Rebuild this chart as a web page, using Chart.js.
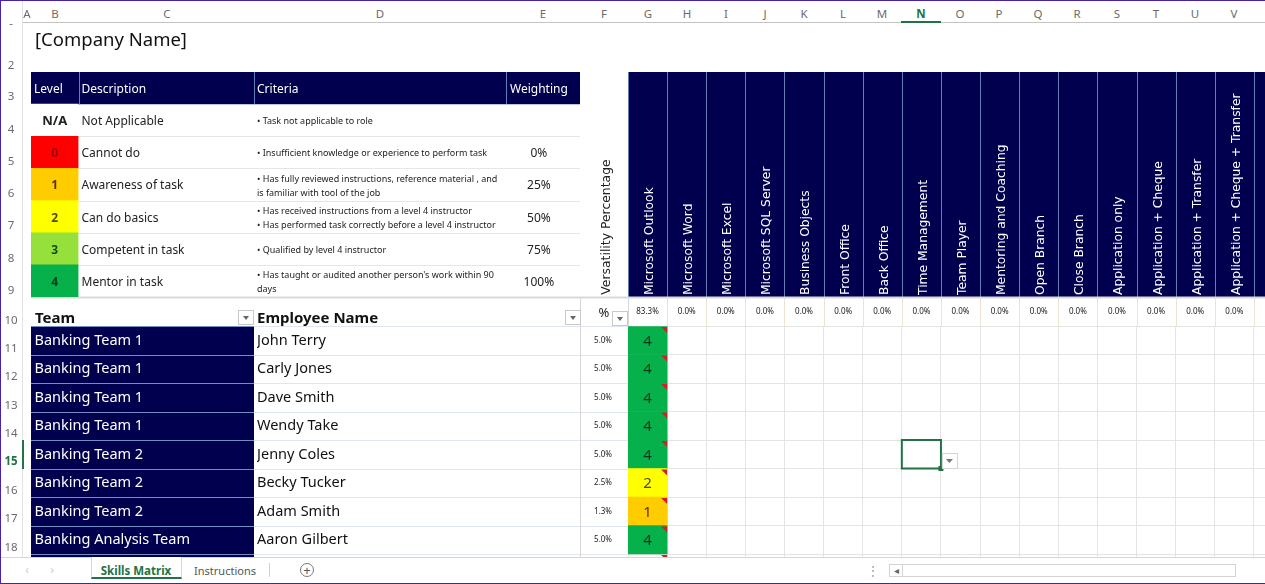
<!DOCTYPE html>
<html>
<head>
<meta charset="utf-8">
<title>Skills Matrix</title>
<script src="https://cdn.jsdelivr.net/npm/chart.js@4"></script>
<style>
  html, body { margin: 0; padding: 0; background: #fff; }
  body { width: 1265px; height: 584px; overflow: hidden; position: relative; font-family: "Noto Sans", sans-serif; }
  canvas { position: absolute; }
  .t { position: absolute; white-space: nowrap; transform: translate(-50%, -50%); font-size: 11.5px; color: #6b6b6b; }
  .box { position: absolute; box-sizing: border-box; }
  .filter { position: absolute; box-sizing: border-box; width: 16px; height: 15px; background: #fff; border: 1px solid #c9c9c9; }
  .filter::after { content: ""; position: absolute; left: 4px; top: 5px; border: 3.5px solid transparent; border-top: 4px solid #666; }
</style>
</head>
<body>
<canvas id="matrixChart"></canvas>
<canvas id="levelChart"></canvas>
<script>
// skills matrix data
const skills = ["Microsoft Outlook", "Microsoft Word", "Microsoft Excel", "Microsoft SQL Server", "Business Objects",
  "Front Office", "Back Office", "Time Management", "Team Player", "Mentoring and Coaching", "Open Branch", "Close Branch",
  "Application only", "Application + Cheque", "Application + Transfer", "Application + Cheque + Transfer", ""];
const skillPercent = ["83.3%", "0.0%", "0.0%", "0.0%", "0.0%", "0.0%", "0.0%", "0.0%", "0.0%", "0.0%", "0.0%", "0.0%",
  "0.0%", "0.0%", "0.0%", "0.0%", ""];
const teams = ["Banking Team 1", "Banking Team 1", "Banking Team 1", "Banking Team 1", "Banking Team 2", "Banking Team 2",
  "Banking Team 2", "Banking Analysis Team", ""];
const employees = ["John Terry", "Carly Jones", "Dave Smith", "Wendy Take", "Jenny Coles", "Becky Tucker", "Adam Smith", "Aaron Gilbert", ""];
const employeePercent = ["5.0%", "5.0%", "5.0%", "5.0%", "5.0%", "2.5%", "1.3%", "5.0%", ""];
const outlookLevels = [4, 4, 4, 4, 4, 2, 1, 4, null];

// level key table
const keyLevels = ["Level", "N/A", "0", "1", "2", "3", "4"];
const keyDescriptions = ["Description", "Not Applicable", "Cannot do", "Awareness of task", "Can do basics", "Competent in task", "Mentor in task"];
const keyCriteria = ["Criteria", "• Task not applicable to role", "• Insufficient knowledge or experience to perform task",
  ["• Has fully reviewed instructions, reference material , and", "is familiar with tool of the job"],
  ["• Has received instructions from a level 4 instructor", "• Has performed task correctly before a level 4 instructor"],
  "• Qualified by level 4 instructor",
  ["• Has taught or audited another person's work within 90", "days"]];
const keyWeights = ["Weighting", "", "0%", "25%", "50%", "75%", "100%"];
const keySwatch = [1, 1, 1, 1, 1, 1, 1];

const NAVY = "#00004f";
const levelColors = { 0: "#ff0000", 1: "#ffcc00", 2: "#ffff00", 3: "#96e03c", 4: "#06b04a" };
const levelText = { 0: "#a00000", 1: "#5c3000", 2: "#4a4a00", 3: "#174a0c", 4: "#063a1a" };
const FONT = '"Noto Sans", sans-serif';

// axis takes a fixed size so the sheet columns line up
function fixWidth(w) {
  return function (s) { s.width = w; s.paddingTop = 0; s.paddingBottom = 0; };
}
function fixHeight(h) {
  return function (s) { s.height = h; s.paddingLeft = 0; s.paddingRight = 0; };
}

function textAxis(labels, position, weight, size, font, color, crossAlign, padding, shift) {
  const ax = {
    axis: "y", type: "category", labels: labels, position: position, weight: weight, offset: true,
    grid: { display: false, drawTicks: false }, border: { display: false },
    ticks: { autoSkip: false, font: font, color: color, crossAlign: crossAlign, padding: padding, labelOffset: shift, maxRotation: 0, minRotation: 0 },
    afterFit: fixWidth(size),
  };
  return ax;
}

// sheet fills and borders behind the axes and cells
const sheetPlugin = {
  id: "sheet",
  beforeDraw(chart) {
    const c = chart.ctx, x = chart.scales.x, y = chart.scales.y, area = chart.chartArea;
    const colW = x.getPixelForTick(1) - x.getPixelForTick(0);
    const hTop = 72, hBottom = 297;
    c.save();
    // skill header band
    c.fillStyle = NAVY;
    c.fillRect(area.left, hTop, area.width, hBottom - hTop);
    c.fillRect(31, area.top, 223, area.height);
    c.lineWidth = 1;
    for (let i = 0; i <= skills.length; i++) {
      const px = Math.round(x.getPixelForTick(0) - colW / 2 + i * colW) + 0.5;
      c.strokeStyle = "#5f7fb8";
      c.beginPath(); c.moveTo(px, hTop); c.lineTo(px, hBottom); c.stroke();
      c.strokeStyle = "#f2e0d0";
      c.beginPath(); c.moveTo(px, hBottom); c.lineTo(px, area.top); c.stroke();
    }
    // row borders
    for (let i = 0; i <= teams.length; i++) {
      const py = Math.round(y.getPixelForValue(i)) + 0.5;
      c.strokeStyle = "#6f90c4";
      c.beginPath(); c.moveTo(31, py); c.lineTo(254, py); c.stroke();
      c.strokeStyle = "#dfe6f0";
      c.beginPath(); c.moveTo(254, py); c.lineTo(area.left, py); c.stroke();
    }
    c.strokeStyle = "#d6d6d6";
    c.beginPath(); c.moveTo(580.5, 297); c.lineTo(580.5, 584); c.stroke();
    c.beginPath(); c.moveTo(area.left + 0.5, 297); c.lineTo(area.left + 0.5, 326); c.stroke();
    c.lineWidth = 2;
    c.strokeStyle = "#d9d9d9";
    c.beginPath(); c.moveTo(31, 297.5); c.lineTo(area.right, 297.5); c.stroke();
    c.restore();
  },
  afterDatasetsDraw(chart) {
    const c = chart.ctx, x = chart.scales.x, y = chart.scales.y;
    const half = (x.getPixelForTick(1) - x.getPixelForTick(0)) / 2;
    const cx = x.getPixelForValue(0);
    c.save();
    c.textAlign = "center";
    c.textBaseline = "middle";
    c.font = "15px " + FONT;
    outlookLevels.forEach(function (lv, i) {
      const top = y.getPixelForValue(i), mid = y.getPixelForValue(i + 0.5);
      if (lv !== null) {
        c.fillStyle = levelText[lv];
        c.fillText(String(lv), cx, mid + 1);
      }
      // comment marker
      c.fillStyle = "#d2202a";
      c.beginPath();
      c.moveTo(cx + half - 6, top + 1); c.lineTo(cx + half, top + 1); c.lineTo(cx + half, top + 7);
      c.fill();
    });
    // selected cell N15
    const sel = skills.indexOf("Time Management");
    const sx = x.getPixelForValue(sel) - half, sy = y.getPixelForValue(4), sh = y.getPixelForValue(5) - sy;
    c.strokeStyle = "#217346";
    c.lineWidth = 2;
    c.strokeRect(sx, sy, half * 2, sh);
    c.fillStyle = "#217346";
    c.fillRect(sx + half * 2 - 2.5, sy + sh - 2.5, 5, 5);
    c.fillStyle = "#fff";
    c.strokeStyle = "#d4d4d4";
    c.lineWidth = 1;
    c.fillRect(sx + half * 2 + 1, sy + 13, 15, 15);
    c.strokeRect(sx + half * 2 + 1.5, sy + 13.5, 15, 15);
    c.fillStyle = "#777";
    c.beginPath();
    c.moveTo(sx + half * 2 + 5, sy + 19); c.lineTo(sx + half * 2 + 12, sy + 19); c.lineTo(sx + half * 2 + 8.5, sy + 23);
    c.fill();
    c.restore();
  },
};

const cellBars = outlookLevels.map(function (lv, i) {
  return { x: skills[0], y: lv === null ? null : [i, i + 1] };
});

const matrixCanvas = document.getElementById("matrixChart");
matrixCanvas.style.left = "0px";
matrixCanvas.style.top = "0px";
matrixCanvas.width = 1293;
matrixCanvas.height = 584;

new Chart(matrixCanvas, {
  type: "bar",
  data: {
    datasets: [{
      data: cellBars,
      backgroundColor: outlookLevels.map(function (lv) { return lv === null ? "#fff" : levelColors[lv]; }),
      barPercentage: 1,
      categoryPercentage: 1,
      borderWidth: 0,
    }],
  },
  options: {
    responsive: false,
    animation: false,
    layout: { padding: { left: 34.5, top: 72, right: 0, bottom: 1.5 } },
    plugins: { legend: { display: false }, tooltip: { enabled: false } },
    scales: {
      x: {
        type: "category", labels: skills, position: "top", weight: 2, offset: true,
        grid: { color: "#e4e4e4", drawTicks: false, offset: true }, border: { display: false },
        ticks: { autoSkip: false, minRotation: 90, maxRotation: 90, padding: 2, labelOffset: 17, color: "#ffffff", font: { family: "DejaVu Sans", size: 12.3 } },
        afterFit: fixHeight(225),
      },
      xPercent: {
        axis: "x", type: "category", labels: skillPercent, position: "top", weight: 1, offset: true,
        grid: { display: false, drawTicks: false }, border: { display: false },
        ticks: { autoSkip: false, maxRotation: 0, minRotation: 0, padding: 9, color: "#222", font: { family: "Noto Sans", size: 8 } },
        afterFit: fixHeight(29),
      },
      y: {
        type: "linear", position: "left", weight: 0, reverse: true, min: 0, max: teams.length,
        grid: { color: "#e4e4e4", drawTicks: false }, border: { display: false },
        ticks: { display: false, stepSize: 1 },
        afterFit: fixWidth(0),
      },
      yTeam: textAxis(teams, "left", 3, 222.5, { family: "Noto Sans", size: 14.5 }, "#ffffff", "far", 0, 0.5),
      yEmployee: textAxis(employees, "left", 2, 323, { family: "Noto Sans", size: 14.5 }, "#111", "far", 0, 0.5),
      yPercent: textAxis(employeePercent, "left", 1, 48, { family: "Noto Sans", size: 8 }, "#222", "center", 16, 0),
    },
  },
  plugins: [sheetPlugin],
});

// key table fills and rules
const keyPlugin = {
  id: "keyTable",
  beforeDraw(chart) {
    const c = chart.ctx, y = chart.scales.y;
    const rowH = y.getPixelForTick(1) - y.getPixelForTick(0);
    const w = chart.width;
    c.save();
    c.fillStyle = NAVY;
    c.fillRect(0, 0, w, rowH);
    c.lineWidth = 1;
    for (let i = 1; i <= keyLevels.length; i++) {
      const py = Math.round(y.getPixelForTick(0) - rowH / 2 + i * rowH) + 0.5;
      c.strokeStyle = i === 1 ? "#b9c8e0" : "#e6e6e6";
      c.beginPath(); c.moveTo(0, py); c.lineTo(w, py); c.stroke();
    }
    c.strokeStyle = "#5f7fb8";
    [chart.chartArea.right, chart.scales.yCriteria.left, chart.scales.yWeight.left].forEach(function (px) {
      const p = Math.round(px) + 0.5;
      c.beginPath(); c.moveTo(p, 0); c.lineTo(p, rowH); c.stroke();
    });
    c.restore();
  },
  afterDatasetsDraw(chart) {
    const c = chart.ctx, x = chart.scales.x, y = chart.scales.y;
    c.save();
    c.textBaseline = "middle";
    keyLevels.forEach(function (label, i) {
      const py = y.getPixelForTick(i) + 1.5;
      if (i === 0) {
        c.font = "12px " + FONT;
        c.fillStyle = "#fff";
        c.textAlign = "left";
        c.fillText(label, x.left + 3, py);
      } else {
        c.font = (i === 1 ? "bold 13px " : "bold 12px ") + FONT;
        c.fillStyle = i === 1 ? "#222" : levelText[label];
        c.textAlign = "center";
        c.fillText(label, (x.left + x.right) / 2, py);
      }
    });
    c.restore();
  },
};

const headerWhite = function (ctx) { return ctx.index === 0 ? "#ffffff" : "#222222"; };
const criteriaFont = function (ctx) {
  return ctx.index === 0 ? { family: "Noto Sans", size: 12 } : { family: "Noto Sans", size: 9, lineHeight: 1.55 };
};
const levelCanvas = document.getElementById("levelChart");
levelCanvas.style.left = "31px";
levelCanvas.style.top = "72px";
levelCanvas.width = 549;
levelCanvas.height = 225;

new Chart(levelCanvas, {
  type: "bar",
  data: {
    labels: keyLevels,
    datasets: [{
      data: keySwatch,
      backgroundColor: [NAVY, "#ffffff", levelColors[0], levelColors[1], levelColors[2], levelColors[3], levelColors[4]],
      barPercentage: 1,
      categoryPercentage: 1,
      borderWidth: 0,
    }],
  },
  options: {
    indexAxis: "y",
    responsive: false,
    animation: false,
    plugins: { legend: { display: false }, tooltip: { enabled: false } },
    scales: {
      x: { display: false, min: 0, max: 1 },
      y: { display: false, offset: true },
      yDescription: textAxis(keyDescriptions, "right", 1, 175.5, { family: "Noto Sans", size: 12 }, headerWhite, "near", 3, 1.5),
      yCriteria: textAxis(keyCriteria, "right", 2, 252, criteriaFont, headerWhite, "near", 3, 1.5),
      yWeight: textAxis(keyWeights, "right", 3, 74, { family: "Noto Sans", size: 12 }, headerWhite, "center", 4, 1.5),
    },
  },
  plugins: [keyPlugin],
});

// sheet chrome around the charts
const colLetters = ["A", "B", "C", "D", "E", "F", "G", "H", "I", "J", "K", "L", "M", "N", "O", "P", "Q", "R", "S", "T", "U", "V"];
const colCentres = [27, 55, 167, 380, 543, 604, 648, 687, 726, 765, 804, 843, 882, 921, 960, 999, 1038, 1077, 1117, 1156, 1195, 1234];
const rowNumbers = ["-", "2", "3", "4", "5", "6", "7", "8", "9", "10", "11", "12", "13", "14", "15", "16", "17", "18"];
const rowCentres = [22, 64, 95, 128, 160, 192, 224, 257, 289, 319, 347, 375, 404, 432, 460, 489, 517, 546];

function addText(text, x, y, css) {
  const el = document.createElement("div");
  el.className = "t";
  el.textContent = text;
  el.style.left = x + "px";
  el.style.top = y + "px";
  if (css) el.style.cssText += css;
  document.body.appendChild(el);
  return el;
}
function addBox(x, y, w, h, css) {
  const el = document.createElement("div");
  el.className = "box";
  el.style.cssText += "left:" + x + "px;top:" + y + "px;width:" + w + "px;height:" + h + "px;" + css;
  document.body.appendChild(el);
  return el;
}
function addFilter(x, y) {
  const el = document.createElement("div");
  el.className = "filter";
  el.style.left = x + "px";
  el.style.top = y + "px";
  document.body.appendChild(el);
}

addBox(23, 0, 1242, 22.5, "background:#fff;border-bottom:1px solid #c4c4c4;");
addBox(0, 0, 23, 557, "background:#fff;border-right:1px solid #e2e2e2;");
colLetters.forEach(function (letter, i) {
  addText(letter, colCentres[i], 13, letter === "N" ? "font-weight:bold;color:#217346;" : "");
});
rowNumbers.forEach(function (num, i) {
  addText(num, 11, rowCentres[i], num === "15" ? "font-weight:bold;color:#217346;" : "");
});
addBox(901, 21, 40, 2, "background:#217346;");
addBox(22, 440, 2, 29, "background:#217346;");

addText("[Company Name]", 35, 38, "transform:translateY(-50%);font-size:18.5px;color:#111;");
addText("Team", 35, 317, "transform:translateY(-50%);font-size:15px;font-weight:bold;color:#111;");
addText("Employee Name", 257, 317, "transform:translateY(-50%);font-size:15px;font-weight:bold;color:#111;");
addText("%", 604, 312, "font-size:13px;color:#222;");
addText("Versatility Percentage", 605, 227, "transform:translate(-50%,-50%) rotate(-90deg);font-family:'DejaVu Sans';font-size:12.4px;color:#222;");
addFilter(238, 310);
addFilter(565, 310);
addFilter(612, 311);

// tab strip
addBox(0, 557, 1265, 27, "background:#fff;border-top:1px solid #d6d6d6;");
addBox(91, 557, 91, 22, "background:#fff;border-left:1px solid #d6d6d6;border-right:1px solid #d6d6d6;border-bottom:2px solid #217346;");
addText("Skills Matrix", 136, 570, "font-size:11.5px;font-weight:bold;color:#217346;");
addText("Instructions", 225, 570, "font-size:11px;color:#555;");
addBox(269, 563, 1, 14, "background:#d0d0d0;");
addBox(300, 563, 14, 14, "border:1px solid #777;border-radius:50%;");
addText("+", 307, 569.5, "font-size:13px;color:#555;");
addText("‹", 27, 569, "font-size:12px;color:#ccc;");
addText("›", 52, 569, "font-size:12px;color:#ccc;");
addText("⋮", 873, 570, "font-size:12px;color:#999;");
addBox(889, 564, 347, 13, "border:1px solid #d4d4d4;background:#fff;");
addBox(889, 564, 14, 13, "border:1px solid #d4d4d4;background:#fff;");
addText("◂", 896, 570, "font-size:10px;color:#666;");

// image frame
addBox(0, 0, 1265, 1, "background:#4a22a8;");
addBox(0, 0, 1, 584, "background:#4a22a8;");
addBox(0, 583, 1265, 1, "background:#4a22a8;");
</script>
</body>
</html>
